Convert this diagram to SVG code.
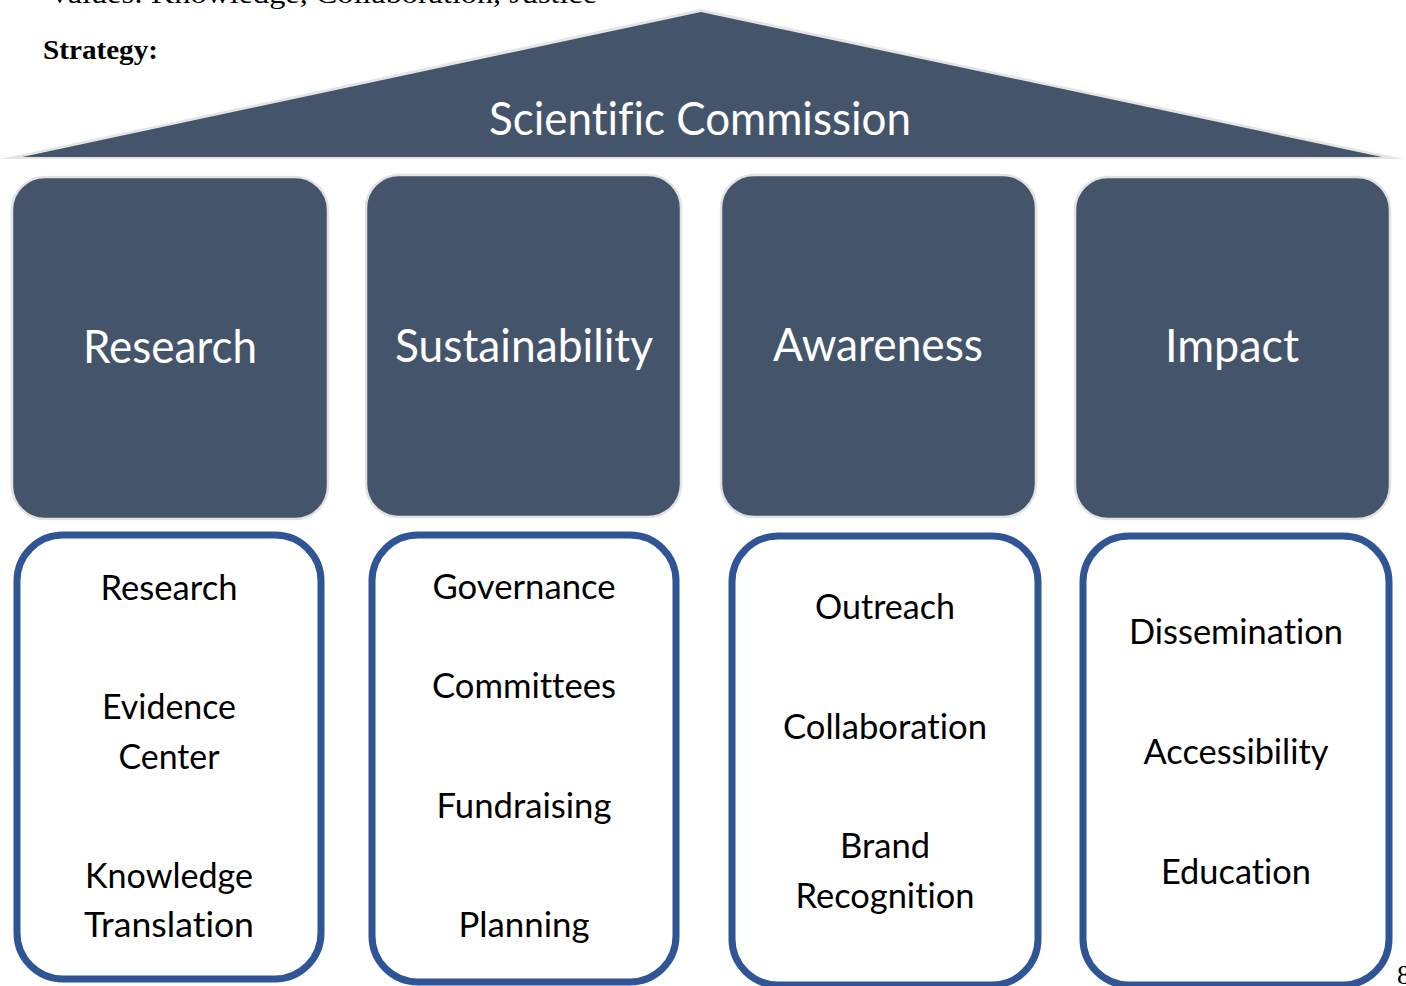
<svg xmlns="http://www.w3.org/2000/svg" width="1406" height="986" viewBox="0 0 1406 986">
<style>
.hdr{fill:#44546A;stroke:#E2E2E2;stroke-width:2.5}
.sub{fill:#FFFFFF;stroke:#2F5597;stroke-width:7}
.tw{font-family:Lato,"Open Sans",sans-serif;fill:#FFFFFF;font-size:47px;text-anchor:middle;font-variant-ligatures:none}
.tb{font-family:Lato,"Open Sans",sans-serif;fill:#000000;font-size:34px;text-anchor:middle;font-variant-ligatures:none}
.doc{font-family:"Liberation Serif",serif;fill:#000000}
</style>
<rect width="1406" height="986" fill="#FFFFFF"/>
<text class="doc" x="48" y="3" font-size="27" textLength="549" lengthAdjust="spacingAndGlyphs">Values: Knowledge, Collaboration, Justice</text>
<text class="doc" x="43" y="59" font-size="27" font-weight="bold" textLength="115" lengthAdjust="spacingAndGlyphs">Strategy:</text>
<text class="doc" x="1397" y="984" font-size="27">8</text>
<g id="roof">
<polygon points="0,159 701,9 1404,159" fill="#E4E4E4"/>
<polygon points="22,157 701,12 1382,157" fill="#44546A"/>
<text class="tw" x="700" y="135" textLength="422" lengthAdjust="spacingAndGlyphs">Scientific Commission</text>
</g>
<g id="pillar-research">
<rect class="hdr" x="12" y="177" width="316" height="342" rx="33"/>
<text class="tw" x="170" y="363" textLength="174" lengthAdjust="spacingAndGlyphs">Research</text>
</g>
<g id="pillar-sustainability">
<rect class="hdr" x="366" y="175" width="315" height="342" rx="33"/>
<text class="tw" x="524" y="362" textLength="258" lengthAdjust="spacingAndGlyphs">Sustainability</text>
</g>
<g id="pillar-awareness">
<rect class="hdr" x="721" y="175" width="315" height="342" rx="33"/>
<text class="tw" x="878" y="361" textLength="210" lengthAdjust="spacingAndGlyphs">Awareness</text>
</g>
<g id="pillar-impact">
<rect class="hdr" x="1075" y="177" width="315" height="342" rx="33"/>
<text class="tw" x="1232" y="362" textLength="134" lengthAdjust="spacingAndGlyphs">Impact</text>
</g>
<g id="list-research">
<rect class="sub" x="17" y="535" width="304" height="444" rx="46"/>
<text class="tb" x="169" y="600" textLength="137" lengthAdjust="spacingAndGlyphs">Research</text>
<text class="tb" x="169" y="719" textLength="134" lengthAdjust="spacingAndGlyphs">Evidence</text>
<text class="tb" x="169" y="769" textLength="101" lengthAdjust="spacingAndGlyphs">Center</text>
<text class="tb" x="169" y="888" textLength="168" lengthAdjust="spacingAndGlyphs">Knowledge</text>
<text class="tb" x="169" y="937" textLength="170" lengthAdjust="spacingAndGlyphs">Translation</text>
</g>
<g id="list-sustainability">
<rect class="sub" x="372" y="535" width="304" height="447" rx="46"/>
<text class="tb" x="524" y="599" textLength="183" lengthAdjust="spacingAndGlyphs">Governance</text>
<text class="tb" x="524" y="698" textLength="184" lengthAdjust="spacingAndGlyphs">Committees</text>
<text class="tb" x="524" y="818" textLength="175" lengthAdjust="spacingAndGlyphs">Fundraising</text>
<text class="tb" x="524" y="937" textLength="131" lengthAdjust="spacingAndGlyphs">Planning</text>
</g>
<g id="list-awareness">
<rect class="sub" x="732" y="536" width="306" height="449" rx="46"/>
<text class="tb" x="885" y="619" textLength="140" lengthAdjust="spacingAndGlyphs">Outreach</text>
<text class="tb" x="885" y="739" textLength="204" lengthAdjust="spacingAndGlyphs">Collaboration</text>
<text class="tb" x="885" y="858" textLength="90" lengthAdjust="spacingAndGlyphs">Brand</text>
<text class="tb" x="885" y="908" textLength="179" lengthAdjust="spacingAndGlyphs">Recognition</text>
</g>
<g id="list-impact">
<rect class="sub" x="1083" y="536" width="306" height="449" rx="46"/>
<text class="tb" x="1236" y="644" textLength="214" lengthAdjust="spacingAndGlyphs">Dissemination</text>
<text class="tb" x="1236" y="764" textLength="185" lengthAdjust="spacingAndGlyphs">Accessibility</text>
<text class="tb" x="1236" y="884" textLength="150" lengthAdjust="spacingAndGlyphs">Education</text>
</g>
<g id="connectors"></g>
</svg>
